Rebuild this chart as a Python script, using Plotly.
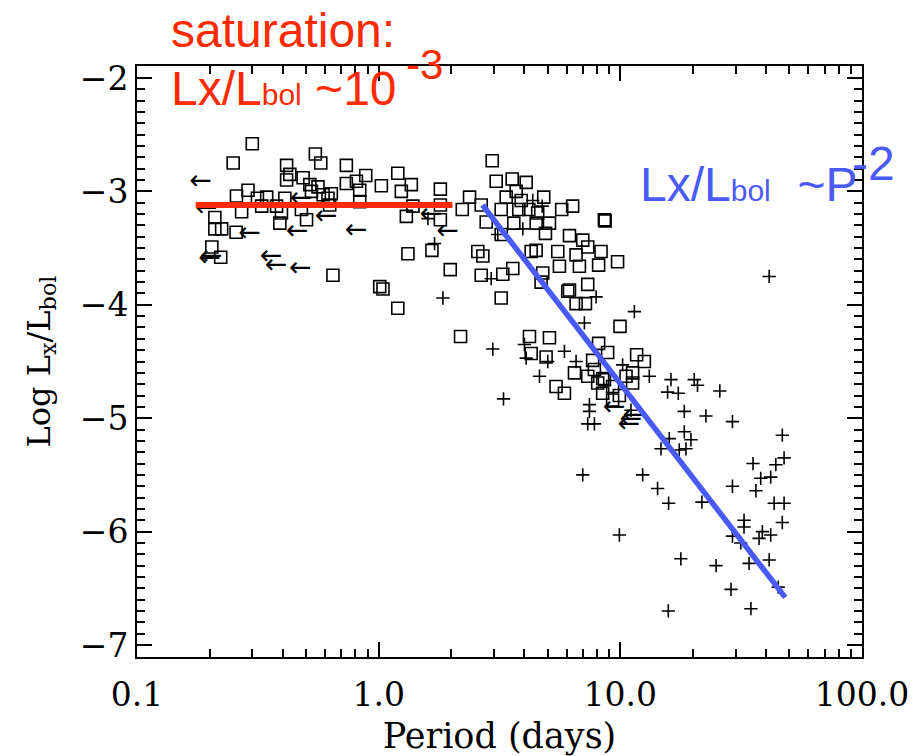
import plotly.graph_objects as go

# --- Rotation period vs. fractional X-ray luminosity -------------------------
# open squares: one sample; plus signs: second sample; arrows: period upper limits

sq_period = [
    0.30, 0.250, 0.547, 0.576, 0.416, 0.735, 0.429, 0.416, 0.487, 0.884,
    0.735, 0.809, 0.835, 0.519, 0.561, 0.527, 0.589, 0.637, 0.617, 1.026,
    0.288, 0.258, 0.315, 0.344, 0.409, 0.328, 0.271, 0.378, 0.396, 0.390,
    0.479, 0.503, 0.627, 0.835, 0.210, 0.210, 0.224, 0.257, 0.204, 0.222,
    0.647, 1.01,
    1.20, 1.365, 1.241, 1.80, 1.386, 1.302, 1.80, 1.80, 2.377, 2.218,
    2.657, 2.95, 3.064, 3.568, 4.077, 3.707, 3.37, 3.89, 4.82, 3.214,
    3.80, 4.18, 4.55, 5.72, 6.35, 8.59, 8.65, 2.786, 3.624, 4.484,
    5.09, 4.90, 3.214, 6.16, 6.99, 8.32, 7.33, 6.56, 5.51, 4.484,
    4.276, 2.572, 2.698, 1.322, 1.661, 1.978, 2.657, 3.263, 3.589, 4.775,
    5.597, 6.77, 8.13, 9.74, 1.042, 1.20, 3.214, 6.16, 7.33, 6.56,
    7.17, 2.182,
    4.70, 6.06, 9.97, 4.207, 5.09, 4.276, 4.93, 5.42, 5.87, 6.46,
    7.68, 8.13, 8.86, 11.68, 12.57, 7.33, 8.45, 9.29, 8.45, 9.29,
    10.56, 11.24, 8.06, 11.24, 8.59, 7.81, 9.91,
]
sq_logratio = [
    -2.58, -2.75, -2.67, -2.75, -2.77, -2.77, -2.85, -2.90, -2.88, -2.86,
    -2.93, -2.91, -2.99, -2.94, -2.96, -3.00, -3.03, -3.02, -3.06, -2.95,
    -2.99, -3.04, -3.06, -3.05, -3.06, -3.13, -3.18, -3.13, -3.19, -3.28,
    -3.16, -3.25, -3.12, -3.09, -3.23, -3.33, -3.33, -3.36, -3.49, -3.58,
    -3.74, -3.84,
    -2.84, -2.94, -3.00, -2.98, -3.13, -3.22, -3.12, -3.25, -3.05, -3.16,
    -3.12, -2.73, -2.91, -2.89, -2.92, -3.00, -3.05, -3.08, -3.05, -3.16,
    -3.16, -3.16, -3.19, -3.16, -3.13, -3.25, -3.26, -3.27, -3.28, -3.28,
    -3.28, -3.37, -3.38, -3.39, -3.43, -3.53, -3.49, -3.56, -3.53, -3.52,
    -3.53, -3.53, -3.57, -3.55, -3.52, -3.69, -3.74, -3.73, -3.68, -3.72,
    -3.66, -3.66, -3.65, -3.62, -3.86, -4.03, -3.94, -3.87, -3.82, -3.99,
    -3.99, -4.28,
    -3.80, -3.88, -4.19, -4.28, -4.29, -4.43, -4.46, -4.72, -4.78, -4.60,
    -4.49, -4.34, -4.42, -4.44, -4.50, -4.63, -4.65, -4.72, -4.78, -4.84,
    -4.63, -4.69, -4.69, -4.60, -4.66, -4.57, -4.80,
]

cross_period = [
    1.599, 1.703, 1.844, 2.922, 3.11, 3.95, 4.34, 4.75, 7.94, 11.43,
    7.10, 2.967, 4.01, 4.077, 5.01, 5.87, 6.56, 4.63, 3.285, 10.22,
    13.18, 16.2, 15.69, 17.37, 20.22, 7.45, 7.45, 7.33, 7.81, 11.07,
    18.39, 18.39, 15.94, 14.73, 18.69, 17.53, 6.99, 12.37, 20.86, 25.8,
    22.6, 29.1, 46.8, 19.6, 47.6, 44.0, 35.4, 38.1, 41.9, 36.4,
    29.1, 14.26, 15.84, 21.76, 43.3, 47.6, 46.8, 32.5, 32.5, 29.1,
    38.7, 37.5, 41.9, 31.5, 9.91, 17.8, 24.9, 34.1, 41.3, 45.0,
    28.7, 34.7, 15.79, 41.3,
]
cross_logratio = [
    -3.24, -3.46, -3.94, -3.77, -3.38, -3.33, -3.08, -3.13, -3.93, -4.06,
    -4.16, -4.39, -4.35, -4.47, -4.50, -4.41, -4.50, -4.63, -4.83, -4.53,
    -4.63, -4.66, -4.77, -4.78, -4.66, -4.88, -4.94, -5.05, -5.05, -4.93,
    -4.94, -5.12, -5.18, -5.27, -5.27, -5.28, -5.50, -5.50, -4.71, -4.76,
    -4.98, -5.03, -5.15, -5.19, -5.35, -5.41, -5.40, -5.53, -5.52, -5.64,
    -5.60, -5.62, -5.75, -5.74, -5.75, -5.75, -5.92, -5.90, -5.96, -6.04,
    -6.00, -6.06, -6.03, -6.10, -6.03, -6.24, -6.30, -6.28, -6.25, -6.49,
    -6.51, -6.68, -6.70, -3.75,
]

# upper limits on the period (arrow tip at the plotted period)
lim_period = [
    0.1645, 0.1736, 0.2622, 0.4127, 0.5437, 0.7237, 0.3222, 0.338, 0.4259,
    0.1793, 0.182, 0.4285, 1.731, 1.477, 8.45, 9.74, 9.91, 10.22,
]
lim_logratio = [
    -2.92, -3.16, -3.38, -3.36, -3.23, -3.35, -3.58, -3.66, -3.69,
    -3.60, -3.58, -3.07, -3.36, -3.21, -4.91, -5.06, -5.02, -4.98,
]

# saturated regime and the power-law decline
sat_period = [0.175, 2.02]
sat_level = [-3.12, -3.12]
fit_period = [2.69, 48.1]
fit_level = [-3.12, -6.58]

x_tick_vals = [0.1, 1, 10, 100]
x_tick_text = ["0.1", "1.0", "10.0", "100.0"]

RED = "#ff2a00"
BLUE = "#4a5af7"
SERIF = "DejaVu Serif"
SANS = "Liberation Sans, Arial, sans-serif"

fig = go.Figure()

fig.add_trace(go.Scatter(
    x=sq_period, y=sq_logratio, mode="markers",
    marker=dict(symbol="square-open", size=12, color="black",
                line=dict(width=1.6, color="black")),
))
fig.add_trace(go.Scatter(
    x=cross_period, y=cross_logratio, mode="markers",
    marker=dict(symbol="cross-thin", size=9.5, color="black",
                line=dict(width=1.6, color="black")),
))
fig.add_trace(go.Scatter(
    x=lim_period, y=lim_logratio, mode="text",
    text=["\u2190"] * len(lim_period), textposition="middle right",
    textfont=dict(family="DejaVu Sans", size=27, color="black"),
))
fig.add_trace(go.Scatter(
    x=sat_period, y=sat_level, mode="lines",
    line=dict(color=RED, width=6),
))
fig.add_trace(go.Scatter(
    x=fit_period, y=fit_level, mode="lines",
    line=dict(color=BLUE, width=5.5),
))

minor_x = [m * 10 ** e for e in (-1, 0, 1) for m in range(2, 10)]

fig.update_xaxes(
    type="log", range=[-1, 2], automargin=False,
    tickvals=x_tick_vals, ticktext=x_tick_text,
    ticks="inside", ticklen=15, tickwidth=1.6, tickcolor="black",
    minor=dict(tickvals=minor_x, ticks="inside", ticklen=8,
               tickwidth=1.6, tickcolor="black", showgrid=False),
    showline=True, linewidth=2, linecolor="black", mirror="ticks",
    showgrid=False, zeroline=False,
    ticklabelstandoff=7,
    tickfont=dict(family=SERIF, size=33, color="black"),
    title=dict(text="Period (days)", standoff=14,
               font=dict(family=SERIF, size=35, color="black")),
)
fig.update_yaxes(
    range=[-7.106, -1.894], tick0=-7, dtick=1, automargin=False,
    ticks="inside", ticklen=15, tickwidth=1.6, tickcolor="black",
    minor=dict(tick0=-7, dtick=0.1, ticks="inside", ticklen=8,
               tickwidth=1.6, tickcolor="black", showgrid=False),
    showline=True, linewidth=2, linecolor="black", mirror="ticks",
    showgrid=False, zeroline=False,
    tickfont=dict(family=SERIF, size=33, color="black"),
    title=dict(text="Log L<sub>x</sub>/L<sub>bol</sub>", standoff=20,
               font=dict(family=SERIF, size=32, color="black")),
)

annotations = [
    dict(text="saturation:", x=0.046, y=1.060, font=dict(size=48, color=RED)),
    dict(text="Lx/L<span style='font-size:30px'>bol</span> ~10",
         x=0.046, y=0.962, font=dict(size=48, color=RED)),
    dict(text="-3", x=0.369, y=1.003, font=dict(size=42, color=RED)),
    dict(text="Lx/L<span style='font-size:30px'>bol</span>  ~P",
         x=0.693, y=0.7997, font=dict(size=48, color=BLUE)),
    dict(text="-2", x=0.985, y=0.835, font=dict(size=48, color=BLUE)),
]
for a in annotations:
    a["font"]["family"] = SANS
    fig.add_annotation(xref="paper", yref="paper", showarrow=False,
                       xanchor="left", yanchor="middle", borderpad=0, **a)

fig.update_layout(
    width=916, height=756,
    margin=dict(l=137, r=54, t=66, b=99),
    plot_bgcolor="white", paper_bgcolor="white",
    showlegend=False,
)

fig.write_html("out.html")
